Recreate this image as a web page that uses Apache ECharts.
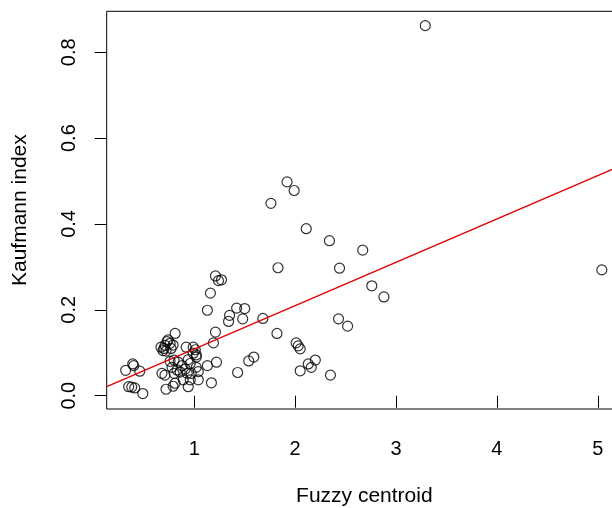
<!DOCTYPE html>
<html>
<head>
<meta charset="utf-8">
<script src="https://cdn.jsdelivr.net/npm/echarts@6/dist/echarts.min.js"></script>
<style>html,body{margin:0;padding:0;background:#fff;}#c{width:612px;height:508px;}</style>
</head>
<body>
<div id="c"></div>
<script>
// Fuzzy centroid (x) values
var fuzzyCentroid = [
  3.29, 5.04, 1.92, 1.99, 1.76, 2.11, 2.34, 2.67, 1.83, 2.44,
  2.76, 2.88, 2.43, 2.52, 1.82, 2.01, 2.03, 2.05, 2.20, 2.13,
  2.16, 2.05, 2.35, 1.21, 1.24, 1.27, 1.16, 1.13, 1.42, 1.50,
  1.35, 1.34, 1.48, 1.68, 1.21, 1.19, 1.59, 1.54, 1.43, 1.22,
  1.13, 1.17, 0.81, 0.39, 0.40, 0.32, 0.46, 0.35, 0.38, 0.41,
  0.49, 0.67, 0.69, 0.71, 0.73, 0.74, 0.76, 0.72, 0.77, 0.79,
  0.70, 0.92, 0.99, 1.01, 0.99, 1.02, 0.76, 0.80, 0.84, 0.88,
  0.78, 0.83, 0.86, 0.80, 0.91, 0.94, 0.96, 0.93, 0.97, 1.02,
  1.04, 0.89, 0.96, 1.04, 0.81, 0.94, 0.68, 0.71, 0.72, 0.79,
  1.02
];
// Kaufmann index (y) values
var kaufmannIndex = [
  0.862, 0.293, 0.498, 0.478, 0.448, 0.389, 0.361, 0.339, 0.298, 0.297,
  0.256, 0.230, 0.179, 0.162, 0.145, 0.123, 0.116, 0.109, 0.083, 0.074,
  0.066, 0.058, 0.048, 0.279, 0.268, 0.270, 0.239, 0.199, 0.204, 0.203,
  0.187, 0.173, 0.179, 0.180, 0.148, 0.123, 0.090, 0.081, 0.054, 0.078,
  0.070, 0.030, 0.145, 0.074, 0.070, 0.059, 0.057, 0.021, 0.020, 0.018,
  0.005, 0.113, 0.105, 0.117, 0.126, 0.130, 0.122, 0.104, 0.110, 0.118,
  0.110, 0.113, 0.113, 0.107, 0.099, 0.095, 0.080, 0.083, 0.078, 0.070,
  0.066, 0.060, 0.055, 0.052, 0.062, 0.084, 0.075, 0.052, 0.052, 0.066,
  0.056, 0.037, 0.037, 0.037, 0.029, 0.021, 0.052, 0.048, 0.015, 0.022,
  0.090
];
// Fitted regression line: intercept, slope
var fitIntercept = 0.0077;
var fitSlope = 0.101;
var xTicks = [1, 2, 3, 4, 5];
var yTicks = [0, 0.2, 0.4, 0.6, 0.8];
var xLimits = [0.132, 5.24];
var yLimits = [-0.031, 0.8954];

var points = fuzzyCentroid.map(function (x, i) { return [x, kaufmannIndex[i]]; });
var fitLine = xLimits.map(function (x) { return [x, fitIntercept + fitSlope * x]; });

var font = 'Liberation Sans, Arial, Helvetica, sans-serif';
var chart = echarts.init(document.getElementById('c'), null, {renderer: 'canvas'});
chart.setOption({
  animation: false,
  backgroundColor: '#fff',
  grid: {
    left: 106.7, top: 11.3, width: 515.3, height: 397.7,
    containLabel: false, outerBoundsMode: 'none',
    show: true, borderColor: '#000', borderWidth: 1, backgroundColor: 'transparent'
  },
  xAxis: {
    type: 'value', min: xLimits[0], max: xLimits[1],
    name: 'Fuzzy centroid', nameLocation: 'middle', nameGap: 77,
    nameTextStyle: {fontFamily: font, fontSize: 21, color: '#000'},
    axisLine: {show: false},
    splitLine: {show: false},
    axisTick: {show: true, length: 12, inside: false, customValues: xTicks, lineStyle: {color: '#000', width: 1}},
    axisLabel: {show: true, margin: 30, customValues: xTicks, fontFamily: font, fontSize: 20, color: '#000',
      formatter: function (v) { return String(v); }}
  },
  yAxis: {
    type: 'value', min: yLimits[0], max: yLimits[1],
    name: 'Kaufmann index', nameLocation: 'middle', nameGap: 76,
    nameTextStyle: {fontFamily: font, fontSize: 21, color: '#000'},
    axisLine: {show: false},
    splitLine: {show: false},
    axisTick: {show: true, length: 12, inside: false, customValues: yTicks, lineStyle: {color: '#000', width: 1}},
    axisLabel: {show: true, margin: 27, rotate: 90, customValues: yTicks, fontFamily: font, fontSize: 20, color: '#000',
      formatter: function (v) { return v.toFixed(1); }}
  },
  series: [
    {
      type: 'scatter', data: points, symbol: 'circle', symbolSize: 10,
      itemStyle: {color: 'rgba(0,0,0,0)', borderColor: '#000', borderWidth: 1.2},
      silent: true, z: 2
    },
    {
      type: 'line', data: fitLine, symbol: 'none', clip: true,
      lineStyle: {color: '#e00000', width: 1.3}, silent: true, z: 3
    }
  ]
});
</script>
</body>
</html>
